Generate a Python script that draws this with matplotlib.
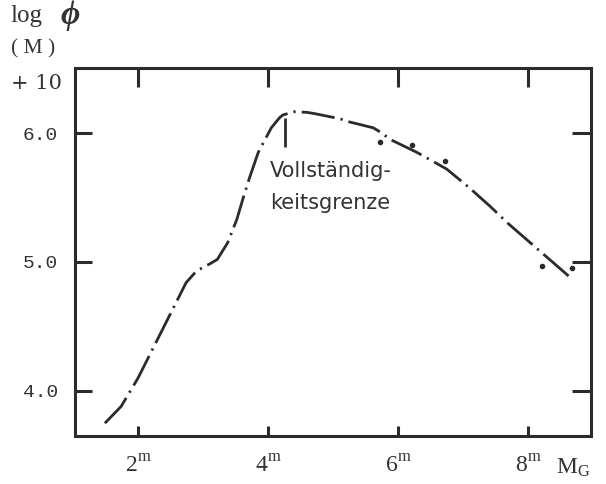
import matplotlib.pyplot as plt

# Leuchtkraftfunktion: log phi(M) + 10 gegen M_G
mag = [1.49, 1.74, 2.0, 2.26, 2.5, 2.74, 2.9, 3.12, 3.22, 3.38, 3.52, 3.62, 3.72,
       3.85, 4.05, 4.18, 4.23, 4.4, 4.6, 4.72, 5.11, 5.22, 5.62, 5.75, 5.88,
       6.29, 6.75, 7.11, 7.22, 7.42, 7.69, 8.65]
log_phi = [3.75, 3.88, 4.1, 4.36, 4.6, 4.84, 4.93, 4.99, 5.02, 5.15, 5.33, 5.5, 5.66,
           5.85, 6.04, 6.12, 6.14, 6.165, 6.16, 6.15, 6.11, 6.09, 6.04, 6.0, 5.95,
           5.85, 5.72, 5.57, 5.52, 5.43, 5.30, 4.88]

# einzelne Punkte neben der Kurve
dot_mag = [5.72, 6.22, 6.72, 8.22, 8.68]
dot_phi = [5.93, 5.91, 5.78, 4.97, 4.95]

# Vollstaendigkeitsgrenze
limit_mag = 4.26
limit_range = (5.89, 6.12)

x_ticks = [2, 4, 6, 8]
x_labels = ['$2^{\\rm m}$', '$4^{\\rm m}$', '$6^{\\rm m}$', '$8^{\\rm m}$']
y_ticks = [4.0, 5.0, 6.0]
y_labels = ['4.0', '5.0', '6.0']

ink = '#2b2b2b'
txt = '#333333'
serif = ['Liberation Serif', 'DejaVu Serif']
plt.rcParams['mathtext.fontset'] = 'custom'
plt.rcParams['mathtext.rm'] = 'Liberation Serif'

fig = plt.figure(figsize=(6.06, 4.84), dpi=100)
ax = fig.add_axes([0.1238, 0.0992, 0.8515, 0.7603])
ax.set_xlim(1.031, 8.969)
ax.set_ylim(3.651, 6.504)

ax.plot(mag, log_phi, color=ink, lw=2.0, linestyle=(0, (12, 2.2, 0.8, 2.2)),
        dash_capstyle='butt')
ax.plot(dot_mag, dot_phi, 'o', color=ink, markersize=3)
ax.vlines(limit_mag, *limit_range, color=ink, lw=2.0)

ax.text(4.03, 5.585, 'Vollständig-\nkeitsgrenze', ha='left', va='center',
        fontsize=15, color=txt, linespacing=1.75, family=['DejaVu Sans'])

for side in ax.spines.values():
    side.set_linewidth(2.2)
    side.set_color(ink)

ax.set_xticks(x_ticks)
ax.set_xticklabels(x_labels, fontsize=17, color=txt)
ax.set_yticks(y_ticks)
ax.set_yticklabels(y_labels, fontsize=14, color=txt, family=['Liberation Mono'])
ax.tick_params(axis='x', direction='in', length=7, width=2.2, color=ink, pad=13)
ax.tick_params(axis='y', direction='in', length=12.5, width=2.2, color=ink, pad=12)

# obere und rechte Achse mit laengeren Strichen
top = ax.secondary_xaxis('top')
top.set_xticks(x_ticks)
top.tick_params(direction='in', length=13.5, width=2.2, color=ink, labeltop=False)
top.spines['top'].set_visible(False)
right = ax.secondary_yaxis('right')
right.set_yticks(y_ticks)
right.tick_params(direction='in', length=13.5, width=2.2, color=ink, labelright=False)
right.spines['right'].set_visible(False)

# Achsenbeschriftungen
fig.text(0.018, 0.966, 'log', fontsize=18, color=txt, family=serif, va='center')
fig.text(0.1, 0.968, 'ϕ', fontsize=24, color=txt, family=serif,
         va='center', style='italic', weight='bold')
fig.text(0.018, 0.900, '( M )', fontsize=15.5, color=txt, family=serif, va='center')
fig.text(0.018, 0.828, '+ 10', fontsize=15, color=txt, family=['DejaVu Serif'],
         va='center')
fig.text(0.918, 0.035, '$\\rm M_G$', fontsize=17, color=txt, va='center')

fig.savefig('out.png', dpi=100)
